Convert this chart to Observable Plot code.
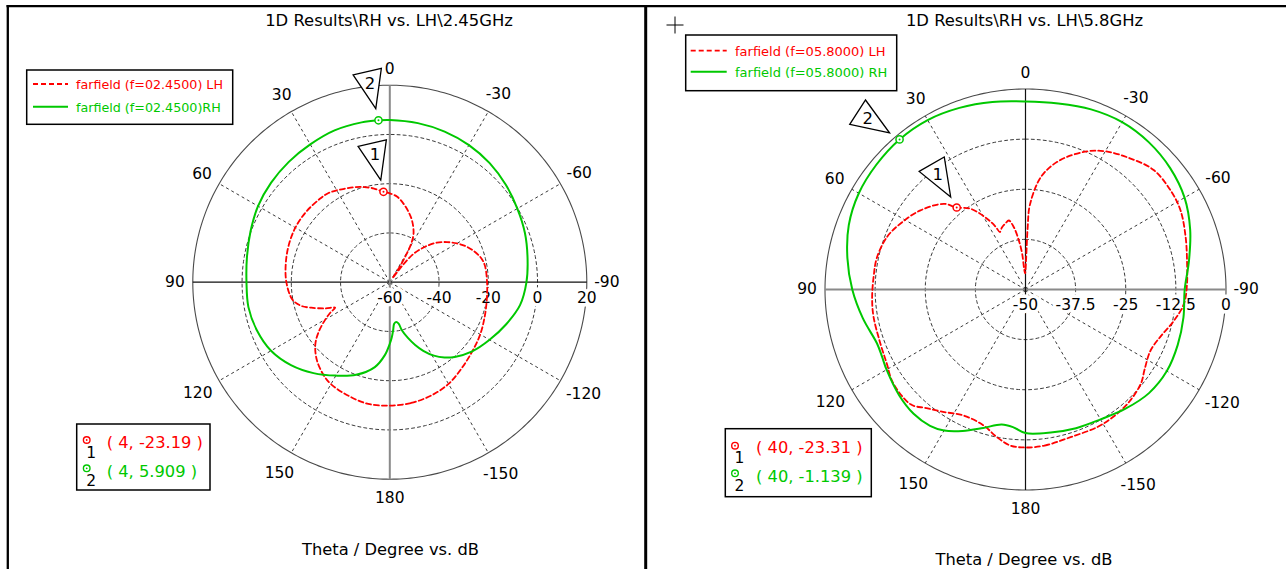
<!DOCTYPE html>
<html>
<head>
<meta charset="utf-8">
<script src="https://cdn.jsdelivr.net/npm/d3@7"></script>
<script src="https://cdn.jsdelivr.net/npm/@observablehq/plot@0.6"></script>
<style>
  html, body { margin: 0; padding: 0; background: #fff; }
  body { width: 1286px; height: 569px; position: relative; overflow: hidden; font-family: "DejaVu Sans", Verdana, sans-serif; }
  .panel { position: absolute; top: 0; }
  .overlay { position: absolute; left: 0; top: 0; pointer-events: none; }
</style>
</head>
<body>
<div id="left" class="panel" style="left:0px"></div>
<div id="right" class="panel" style="left:647px"></div>
<script>
// Far-field cuts, theta in degrees, gain in dB (LH = left-hand, RH = right-hand polarisation)
const theta245LH = [-180,-170,-160,-150,-140,-130,-120,-110,-100,-90,-80,-75,-70,-65,-60,-55,-50,-45,-40,-37,-35,-33,-31,-29,-26,-20,-15,-10,-5,0,4,10,15,20,25,30,35,40,50,60,70,80,90,100,105,108,112,115,117,120,125,130,137,145,150,160,170];
const db245LH    = [-9.9,-10.2,-11,-12.3,-14.5,-16.3,-17.6,-19,-20,-20.5,-20.8,-21.7,-23.5,-25.7,-28.5,-31.6,-35,-39.5,-45,-52,-58,-53,-47.5,-42,-38,-33.5,-30.5,-27.7,-25.2,-23.9,-23.19,-21.3,-20,-18.9,-18,-16.9,-16,-15.8,-15.6,-15.7,-16.3,-17.1,-18,-19.8,-22.8,-26.5,-31.6,-35.5,-33,-29.8,-24.7,-20.5,-16.6,-13.5,-12.2,-10.9,-9.8];

const theta245RH = [-180,-178,-176,-174,-171,-168,-166,-162,-158,-154,-149,-144,-139,-130,-120,-110,-100,-90,-80,-70,-60,-50,-40,-30,-20,-10,0,4,10,20,30,40,50,60,70,80,90,100,110,120,130,140,150,160,170,176];
const db245RH    = [-35,-37.5,-40.5,-43,-43.6,-42.8,-40,-36.2,-32.5,-29,-25.2,-22.2,-19.8,-16.3,-13.2,-9.8,-6.3,-4.5,-3.2,-1.6,-0.2,1.5,3.1,4.3,5.1,5.6,5.9,5.909,5.9,5.6,4.6,3.8,2.9,1.8,0.2,-1.1,-1.8,-1.7,-2.6,-4.3,-7.6,-11.8,-16.2,-20,-25,-30.2];

const theta58LH = [-180,-173,-163,-152,-144,-137,-129,-124,-116,-109,-102,-95,-88,-81,-72,-63,-56,-47,-38,-30,-24,-15,-8,-3,-2,-1,1.5,4,5.3,7.7,10.6,13.6,17,21,24,25.5,28.5,34.3,40,43.6,53,62,69,78,85,93,100,110,118,125,135,140,146,154,163,169,174.5];
const db58LH    = [-10.6,-10.8,-11.5,-11.3,-11.5,-11.9,-12.9,-14.2,-15.3,-14.3,-12.2,-10.3,-9.7,-9.2,-8,-6.6,-6.2,-6.3,-8.3,-10.2,-12.3,-16.6,-21.5,-28.8,-34.5,-43,-46,-44.5,-41.1,-37.7,-34.2,-32.3,-32.8,-33.5,-34.3,-32.6,-29.9,-25.6,-23.31,-20.5,-17.2,-14.8,-13.1,-12.1,-12,-11.7,-11.5,-11.4,-10.8,-9.6,-9.5,-11.4,-13.2,-15,-14.5,-12.5,-10.9];

const theta58RH = [-180,-170,-160,-150,-140,-130,-120,-110,-100,-90,-80,-70,-60,-50,-40,-30,-20,-10,0,10,20,30,40,50,60,70,80,90,100,110,115,120,130,138,145,150,156,163,170,175];
const db58RH    = [-14.2,-13.8,-13.2,-12.6,-11.2,-9.8,-9.3,-9.6,-10,-10.3,-8.6,-6.3,-4.2,-2.9,-2.1,-1.8,-2.2,-2.9,-3.1,-2.5,-1.8,-1.2,-1.139,-1.5,-2.0,-3.1,-4.9,-6.8,-8.8,-10.6,-10.5,-10,-8.9,-8.3,-8.5,-9.4,-11.4,-13.9,-15.8,-15.5];

// Axis ticks
const angleTicks = [0, 30, 60, 90, 120, 150, 180, -150, -120, -90, -60, -30];
const rTicks245 = [-60, -40, -20, 0, 20];
const rTicks58 = [-50, -37.5, -25, -12.5, 0];

// Curve markers (theta, dB)
const markers245 = [
  {id: "1", theta: 4, db: -23.19, pol: "LH"},
  {id: "2", theta: 4, db: 5.909, pol: "RH"}
];
const markers58 = [
  {id: "1", theta: 40, db: -23.31, pol: "LH"},
  {id: "2", theta: 40, db: -1.139, pol: "RH"}
];

// Legend entries and titles
const titles = ["1D Results\\RH vs. LH\\2.45GHz", "1D Results\\RH vs. LH\\5.8GHz"];
const legend245 = ["farfield (f=02.4500) LH", "farfield (f=02.4500)RH"];
const legend58 = ["farfield (f=05.8000) LH", "farfield (f=05.8000) RH"];
const axisCaption = "Theta / Degree vs. dB";

const RED = "#ff0000", GREEN = "#00c800";
const FONT = "DejaVu Sans, Verdana, sans-serif";
const colorOf = pol => pol === "LH" ? RED : GREEN;

// Tall marker pointer: tip a little off the point, rotated about it
function pointerSymbol(rot) {
  const a = rot * Math.PI / 180, c = Math.cos(a), s = Math.sin(a);
  const pts = [[0, -12], [-14.5, -50], [14.5, -50]].map(([x, y]) => [x * c - y * s, x * s + y * c]);
  return {
    draw(ctx) {
      ctx.moveTo(pts[0][0], pts[0][1]);
      ctx.lineTo(pts[1][0], pts[1][1]);
      ctx.lineTo(pts[2][0], pts[2][1]);
      ctx.closePath();
    }
  };
}

function polarChart(o) {
  const rad = Math.PI / 180;
  const norm = v => (v - o.rMin) / (o.rMax - o.rMin);
  const px = (t, v) => -norm(v) * Math.sin(t * rad);
  const py = (t, v) => norm(v) * Math.cos(t * rad);
  const rows = (theta, db) => theta.map((t, i) => ({t, v: db[i]}));
  const rings = o.rTicks.slice(1, -1).flatMap(v => d3.range(0, 361, 2).map(t => ({v, t})));
  const outer = d3.range(0, 361, 1);
  const spokes = [30, 60, 120, 150, -30, -60, -120, -150];
  const charW = ch => ch === "-" ? 0.361 : ch === "." ? 0.318 : 0.636;
  const labelR = t => {
    const txt = String(t);
    const w = [...txt].reduce((s, ch) => s + charW(ch), 0) * 15.5;
    const s = Math.abs(Math.sin(t * rad)), c = Math.cos(t * rad);
    const d = 10 + 0.4 * w * s + (c >= 0 ? 6 : 9) * Math.abs(c);
    return 1 + d / o.R;
  };

  const markerMarks = o.markers.flatMap(m => {
    const col = colorOf(m.pol);
    const x = px(m.theta, m.db), y = py(m.theta, m.db);
    const a = m.rot * rad;
    return [
      Plot.dot([m], {x: () => x, y: () => y, r: 3.6, stroke: col, fill: "white", strokeWidth: 1.5}),
      Plot.dot([m], {x: () => x, y: () => y, r: 1, fill: col}),
      Plot.dot([m], {x: () => x, y: () => y, r: 5, symbol: pointerSymbol(m.rot), stroke: "black", fill: "white", strokeWidth: 1.3}),
      Plot.text([m], {x: () => x, y: () => y, text: "id", dx: 38 * Math.sin(a), dy: -38 * Math.cos(a), fontSize: 16.5, fontFamily: FONT, fill: "black"})
    ];
  });

  return Plot.plot({
    width: o.width,
    height: o.height,
    margin: 0,
    x: {type: "linear", domain: [-o.cx / o.R, (o.width - o.cx) / o.R], range: [0, o.width], axis: null},
    y: {type: "linear", domain: [-(o.height - o.cy) / o.R, o.cy / o.R], range: [o.height, 0], axis: null},
    style: {background: "transparent", fontFamily: FONT},
    marks: [
      // dashed grid rings and spokes
      Plot.line(rings, {x: d => px(d.t, d.v), y: d => py(d.t, d.v), z: "v", stroke: "#3a3a3a", strokeWidth: 1, strokeDasharray: "3,3"}),
      Plot.link(spokes, {x1: 0, y1: 0, x2: t => -Math.sin(t * rad), y2: t => Math.cos(t * rad), stroke: "#3a3a3a", strokeWidth: 1, strokeDasharray: "3,3"}),
      // outer ring
      Plot.line(outer, {x: t => -Math.sin(t * rad), y: t => Math.cos(t * rad), stroke: "#4a4a4a", strokeWidth: 1.1}),
      // main axes
      Plot.link([0], {x1: -1, y1: 0, x2: 1, y2: 0, stroke: o.hColor, strokeWidth: o.hWidth}),
      Plot.link([0], {x1: 0, y1: -1, x2: 0, y2: 1, stroke: o.vColor, strokeWidth: o.vWidth}),
      // radial tick labels
      Plot.text(o.rTicks, {x: v => norm(v), y: 0, text: v => String(v), dy: 16, fontSize: 15.5, fontFamily: FONT, fill: "black", stroke: "white", strokeWidth: 7, strokeLinejoin: "round"}),
      // angle tick labels
      Plot.text(angleTicks, {x: t => -labelR(t) * Math.sin(t * rad), y: t => labelR(t) * Math.cos(t * rad), text: t => String(t), fontSize: 15.5, fontFamily: FONT, fill: "black"}),
      // patterns
      Plot.line(rows(o.lh.theta, o.lh.db), {x: d => px(d.t, d.v), y: d => py(d.t, d.v), stroke: RED, strokeWidth: 1.8, strokeDasharray: "5,3", curve: "catmull-rom-closed"}),
      Plot.line(rows(o.rh.theta, o.rh.db), {x: d => px(d.t, d.v), y: d => py(d.t, d.v), stroke: GREEN, strokeWidth: 2, curve: "catmull-rom-closed"}),
      ...markerMarks
    ]
  });
}

document.getElementById("left").append(polarChart({
  width: 646, height: 569, cx: 389.3, cy: 281.7, R: 197,
  rMin: -60, rMax: 20, rTicks: rTicks245,
  lh: {theta: theta245LH, db: db245LH},
  rh: {theta: theta245RH, db: db245RH},
  markers: markers245.map(m => ({...m, rot: -13})),
  hColor: "#111", hWidth: 1.2, vColor: "#8a8a8a", vWidth: 2
}));

document.getElementById("right").append(polarChart({
  width: 639, height: 569, cx: 378, cy: 289, R: 200.5,
  rMin: -50, rMax: 0, rTicks: rTicks58,
  lh: {theta: theta58LH, db: db58LH},
  rh: {theta: theta58RH, db: db58RH},
  markers: markers58.map(m => ({...m, rot: m.id === "1" ? -30 : -57})),
  hColor: "#8a8a8a", hWidth: 2, vColor: "#111", vWidth: 1.2
}));

// Window frames, titles, legends and marker readouts
const svg = d3.create("svg").attr("class", "overlay").attr("width", 1286).attr("height", 569)
  .attr("font-family", FONT);
svg.append("line").attr("x1", 6.5).attr("y1", 6.2).attr("x2", 1286).attr("y2", 6.2).attr("stroke", "black").attr("stroke-width", 2.3);
svg.append("line").attr("x1", 7.8).attr("y1", 5).attr("x2", 7.8).attr("y2", 569).attr("stroke", "black").attr("stroke-width", 2.3);
svg.append("line").attr("x1", 645.7).attr("y1", 5).attr("x2", 645.7).attr("y2", 569).attr("stroke", "black").attr("stroke-width", 3);

// crosshair cursor
svg.append("path").attr("d", "M666.5,25H683.5M675,16.5V33.5").attr("stroke", "black").attr("stroke-width", 1).attr("fill", "none");

function title(x, y, txt, size) {
  svg.append("text").attr("x", x).attr("y", y).attr("text-anchor", "middle").attr("font-size", size).attr("fill", "black").text(txt);
}
title(389, 26, titles[0], 16.4);
title(1024.5, 26, titles[1], 16.4);
title(390.5, 555, axisCaption, 16.3);
title(1024, 564.5, axisCaption, 16.3);

function legendBox(b, labels, size) {
  svg.append("rect").attr("x", b.x).attr("y", b.y).attr("width", b.w).attr("height", b.h)
    .attr("fill", "white").attr("stroke", "black").attr("stroke-width", 1.5);
  [[RED, "5,3", 1.8], [GREEN, null, 2]].forEach(([col, dash, sw], i) => {
    const ly = b.rows[i];
    svg.append("line").attr("x1", b.l1).attr("x2", b.l2).attr("y1", ly).attr("y2", ly)
      .attr("stroke", col).attr("stroke-width", sw).attr("stroke-dasharray", dash);
    svg.append("text").attr("x", b.tx).attr("y", ly + 5).attr("font-size", size).attr("fill", col).text(labels[i]);
  });
}
legendBox({x: 26.7, y: 70, w: 206, h: 54.3, l1: 33, l2: 68, tx: 76, rows: [84, 106.7]}, legend245, 12.7);
legendBox({x: 685.7, y: 35, w: 211, h: 55.7, l1: 690.7, l2: 726.7, tx: 735, rows: [50.7, 71.7]}, legend58, 13);

function readout(b, markers) {
  svg.append("rect").attr("x", b.x).attr("y", b.y).attr("width", b.w).attr("height", b.h)
    .attr("fill", "white").attr("stroke", "black").attr("stroke-width", 1.5);
  markers.forEach((m, i) => {
    const col = colorOf(m.pol);
    const sy = b.sym[i];
    svg.append("circle").attr("cx", b.sx).attr("cy", sy).attr("r", 3.3).attr("fill", "white").attr("stroke", col).attr("stroke-width", 1.4);
    svg.append("circle").attr("cx", b.sx).attr("cy", sy).attr("r", 0.9).attr("fill", col);
    svg.append("text").attr("x", b.sx + 4.5).attr("y", sy + 17.5).attr("text-anchor", "middle").attr("font-size", 15.5).attr("fill", "black").text(m.id);
    svg.append("text").attr("x", b.tx).attr("y", b.base[i]).attr("font-size", 16.3).attr("fill", col)
      .text(`( ${m.theta}, ${m.db} )`);
  });
}
readout({x: 76.7, y: 424, w: 133.3, h: 66, sx: 86.7, sym: [440, 468.3], tx: 106.7, base: [448.3, 476.7]}, markers245);
readout({x: 725.3, y: 428.7, w: 146, h: 68, sx: 735, sym: [445.7, 473.3], tx: 756, base: [453.3, 481.7]}, markers58);

document.body.append(svg.node());
</script>
</body>
</html>
